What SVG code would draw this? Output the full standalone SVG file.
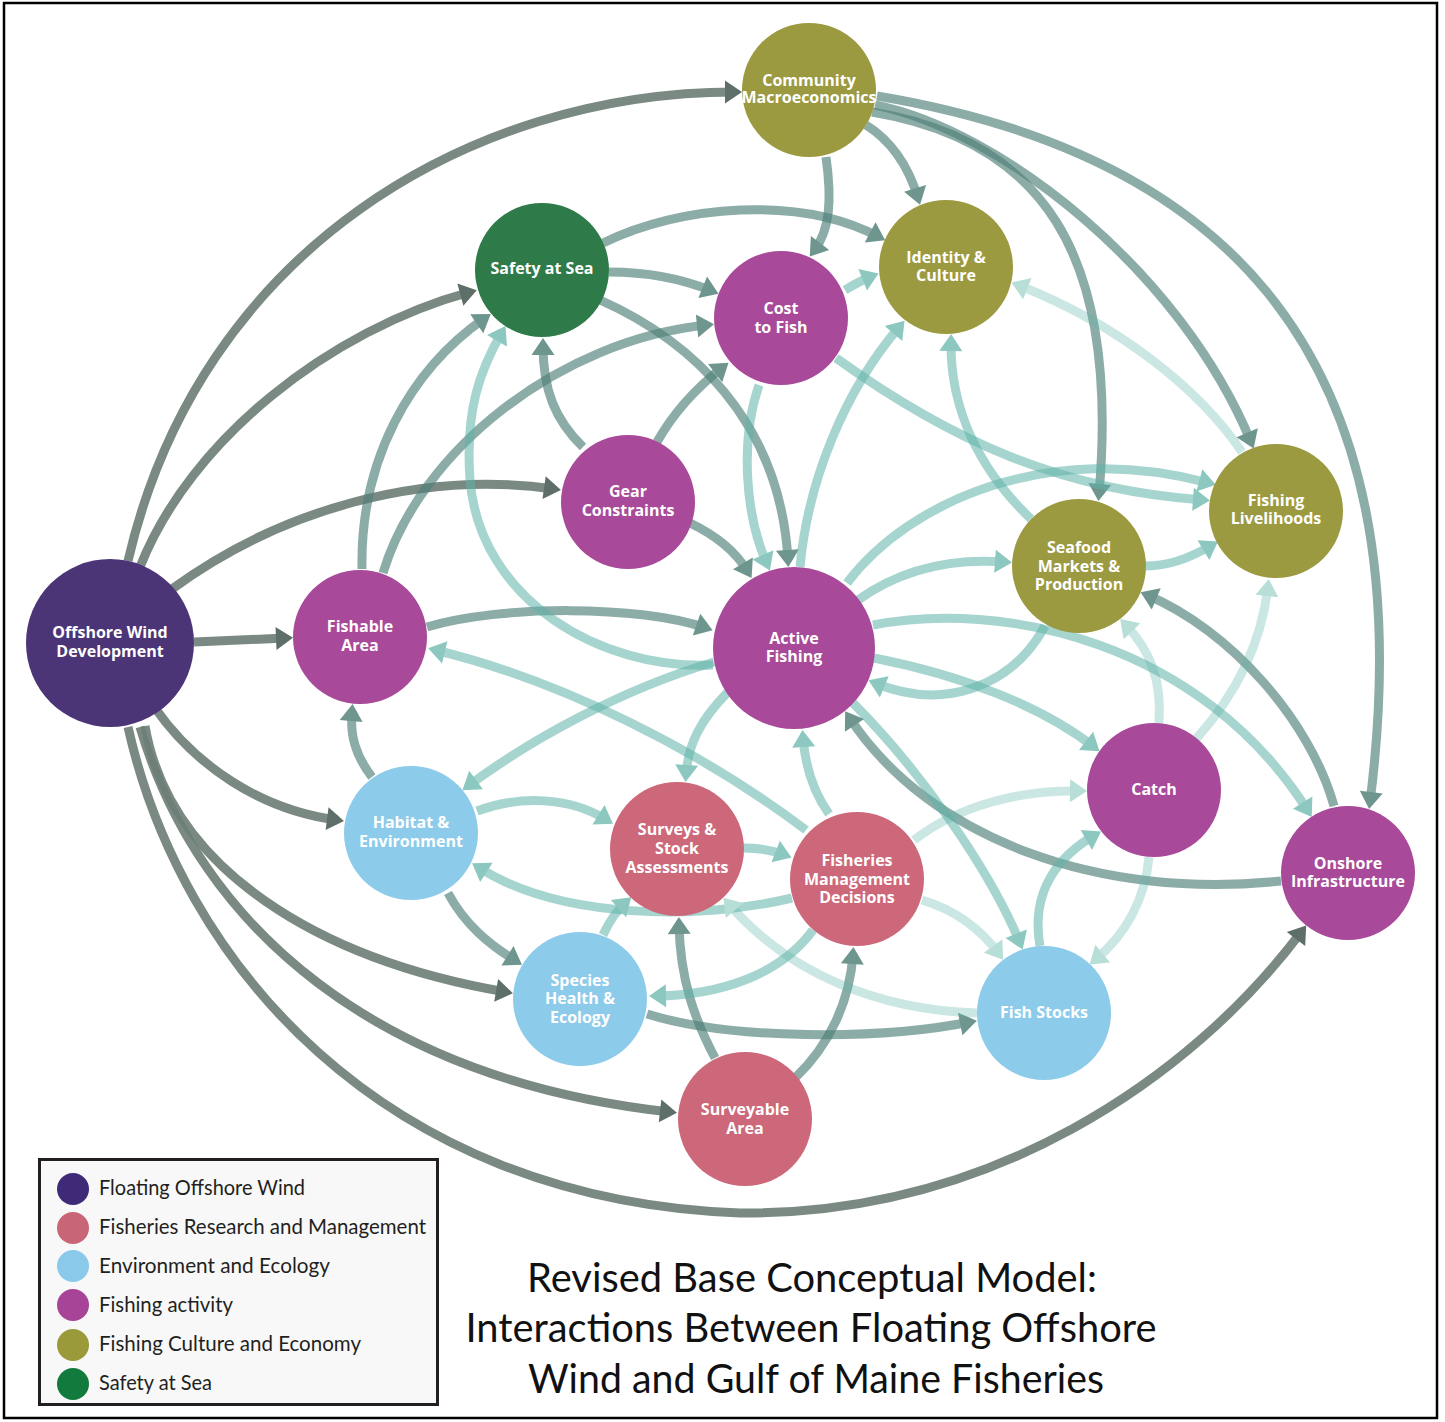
<svg xmlns="http://www.w3.org/2000/svg" width="1445" height="1422" viewBox="0 0 1445 1422">
<style>
.nd text{fill:#fff;font-family:"Open Sans","Liberation Sans",sans-serif;font-weight:700;font-size:16px;text-anchor:middle}
#edges path{fill:none;stroke-width:9}
.d{stroke:#6b7d75;stroke-opacity:.9;marker-end:url(#ad)}
.m{stroke:#4f7f78;stroke-opacity:.65;marker-end:url(#am)}
.l{stroke:#5cb3a7;stroke-opacity:.55;marker-end:url(#al)}
.v{stroke:#5cb3a7;stroke-opacity:.32;marker-end:url(#av)}
.lg{font-family:Lato,"Liberation Sans",sans-serif;font-size:21px;fill:#231f20}
.tt{font-family:Lato,"Liberation Sans",sans-serif;font-size:41px;fill:#111;text-anchor:middle}
</style>
<defs>
<marker id="ad" markerUnits="userSpaceOnUse" markerWidth="17" markerHeight="23" refX="10" refY="11.5" orient="auto" overflow="visible"><path d="M0,0 L17,11.5 L0,23 z" fill="#5e6e68"/></marker>
<marker id="am" markerUnits="userSpaceOnUse" markerWidth="17" markerHeight="23" refX="10" refY="11.5" orient="auto" overflow="visible"><path d="M0,0 L17,11.5 L0,23 z" fill="#6f958f"/></marker>
<marker id="al" markerUnits="userSpaceOnUse" markerWidth="17" markerHeight="23" refX="10" refY="11.5" orient="auto" overflow="visible"><path d="M0,0 L17,11.5 L0,23 z" fill="#8cc8bf"/></marker>
<marker id="av" markerUnits="userSpaceOnUse" markerWidth="17" markerHeight="23" refX="10" refY="11.5" orient="auto" overflow="visible"><path d="M0,0 L17,11.5 L0,23 z" fill="#b8ded8"/></marker>
</defs>
<rect x="0" y="0" width="1445" height="1422" fill="#fff"/>
<rect x="4" y="3" width="1433" height="1415" fill="none" stroke="#000" stroke-width="2.5"/>

<g id="edges">
<path class="d" d="M128,561 C200,250 470,92 735,92"/>
<path class="d" d="M140,567 C190,440 330,330 470,292"/>
<path class="d" d="M172,589 C280,510 420,470 554,489"/>
<path class="d" d="M194,642 L286,638"/>
<path class="d" d="M155,708 C195,765 260,810 337,820"/>
<path class="d" d="M145,726 C170,870 320,960 506,992"/>
<path class="d" d="M140,727 C200,930 380,1080 670,1112"/>
<path class="d" d="M128,727 C180,960 380,1200 740,1213 C990,1215 1190,1080 1302,931"/>
<path class="m" d="M826,157 C832,200 830,230 814,251"/>
<path class="m" d="M866,125 C890,140 908,165 918,198"/>
<path class="m" d="M875,105 C1000,130 1180,270 1251,442"/>
<path class="m" d="M872,112 C1040,140 1120,250 1099,494"/>
<path class="m" d="M877,96 C1200,150 1430,330 1370,802"/>
<path class="m" d="M603,243 C680,205 800,195 879,237"/>
<path class="m" d="M609,272 C650,272 685,280 712,291"/>
<path class="m" d="M600,300 C690,340 780,420 788,560"/>
<path class="m" d="M583,447 C555,420 543,390 543,345"/>
<path class="m" d="M657,442 C675,410 700,385 723,367"/>
<path class="m" d="M690,523 C715,535 735,550 748,572"/>
<path class="m" d="M362,569 C360,460 410,370 485,318"/>
<path class="m" d="M383,573 C420,450 560,340 707,325"/>
<path class="m" d="M427,627 C500,605 640,605 706,628"/>
<path class="m" d="M372,777 C355,755 350,735 352,711"/>
<path class="m" d="M448,893 C465,925 490,945 516,961"/>
<path class="m" d="M715,1058 C695,1020 680,980 679,924"/>
<path class="m" d="M795,1078 C830,1045 850,1000 853,954"/>
<path class="m" d="M647,1014 C730,1040 880,1040 970,1022"/>
<path class="m" d="M1281,881 C1100,900 930,840 849,717"/>
<path class="m" d="M1334,806 C1310,720 1230,630 1147,595"/>
<path class="l" d="M845,290 C855,284 862,280 872,276"/>
<path class="l" d="M759,385 C740,440 745,515 767,564"/>
<path class="l" d="M800,567 C808,480 845,390 900,326"/>
<path class="l" d="M836,358 C950,440 1060,490 1203,500"/>
<path class="l" d="M858,600 C900,570 950,558 1005,562"/>
<path class="l" d="M847,583 C910,500 1050,440 1209,483"/>
<path class="l" d="M1146,566 C1170,566 1192,557 1212,545"/>
<path class="l" d="M1031,519 C980,470 950,410 951,341"/>
<path class="l" d="M1045,626 C1010,690 940,710 875,683"/>
<path class="l" d="M873,625 C1000,600 1200,640 1308,811"/>
<path class="l" d="M874,658 C960,675 1040,705 1094,747"/>
<path class="l" d="M853,703 C920,770 990,870 1020,943"/>
<path class="l" d="M1040,946 C1030,890 1060,855 1095,835"/>
<path class="l" d="M829,814 C812,790 805,765 803,737"/>
<path class="l" d="M806,830 C700,750 560,680 435,650"/>
<path class="l" d="M728,692 C700,720 688,745 686,775"/>
<path class="l" d="M714,662 C620,690 530,740 468,786"/>
<path class="l" d="M713,665 C600,670 480,600 470,480 C465,410 480,370 502,332"/>
<path class="l" d="M744,848 C760,848 772,850 785,855"/>
<path class="l" d="M477,811 C520,795 570,797 607,820"/>
<path class="l" d="M792,898 C700,920 560,920 478,867"/>
<path class="l" d="M603,935 C610,920 617,910 626,902"/>
<path class="l" d="M813,930 C780,975 720,995 656,996"/>
<path class="v" d="M1149,857 C1145,900 1125,935 1095,960"/>
<path class="v" d="M1159,723 C1162,680 1150,650 1125,624"/>
<path class="v" d="M1196,739 C1240,690 1262,640 1268,586"/>
<path class="v" d="M914,840 C960,805 1020,790 1080,791"/>
<path class="v" d="M922,900 C955,910 980,928 999,954"/>
<path class="v" d="M977,1013 C880,1010 790,975 728,903"/>
<path class="v" d="M1242,452 C1200,390 1120,325 1018,285"/>
</g>

<g id="owd" class="nd"><circle cx="110" cy="643" r="84" fill="#4b3577"/><text x="110" y="638">Offshore Wind<tspan x="110" dy="19">Development</tspan></text></g>
<g id="cm" class="nd"><circle cx="809" cy="90" r="67" fill="#9c9a41"/><text x="809" y="86">Community<tspan x="809" dy="17">Macroeconomics</tspan></text></g>
<g id="safety" class="nd"><circle cx="542" cy="270" r="67" fill="#2e7a48"/><text x="542" y="274">Safety at Sea</text></g>
<g id="identity" class="nd"><circle cx="946" cy="267" r="67" fill="#9c9a41"/><text x="946" y="263">Identity &amp;<tspan x="946" dy="18">Culture</tspan></text></g>
<g id="cost" class="nd"><circle cx="781" cy="318" r="67" fill="#a84a99"/><text x="781" y="314">Cost<tspan x="781" dy="19">to Fish</tspan></text></g>
<g id="gear" class="nd"><circle cx="628" cy="502" r="67" fill="#a84a99"/><text x="628" y="497">Gear<tspan x="628" dy="19">Constraints</tspan></text></g>
<g id="livelihoods" class="nd"><circle cx="1276" cy="511" r="67" fill="#9c9a41"/><text x="1276" y="506">Fishing<tspan x="1276" dy="18">Livelihoods</tspan></text></g>
<g id="seafood" class="nd"><circle cx="1079" cy="566" r="67" fill="#9c9a41"/><text x="1079" y="553">Seafood<tspan x="1079" dy="19">Markets &amp;</tspan><tspan x="1079" dy="18">Production</tspan></text></g>
<g id="fishable" class="nd"><circle cx="360" cy="637" r="67" fill="#a84a99"/><text x="360" y="632">Fishable<tspan x="360" dy="19">Area</tspan></text></g>
<g id="active" class="nd"><circle cx="794" cy="648" r="81" fill="#a84a99"/><text x="794" y="644">Active<tspan x="794" dy="18">Fishing</tspan></text></g>
<g id="habitat" class="nd"><circle cx="411" cy="833" r="67" fill="#8dcbea"/><text x="411" y="828">Habitat &amp;<tspan x="411" dy="19">Environment</tspan></text></g>
<g id="surveys" class="nd"><circle cx="677" cy="849" r="67" fill="#cc6879"/><text x="677" y="835">Surveys &amp;<tspan x="677" dy="19">Stock</tspan><tspan x="677" dy="19">Assessments</tspan></text></g>
<g id="fmd" class="nd"><circle cx="857" cy="879" r="67" fill="#cc6879"/><text x="857" y="866">Fisheries<tspan x="857" dy="19">Management</tspan><tspan x="857" dy="18">Decisions</tspan></text></g>
<g id="catch" class="nd"><circle cx="1154" cy="790" r="67" fill="#a84a99"/><text x="1154" y="795">Catch</text></g>
<g id="onshore" class="nd"><circle cx="1348" cy="873" r="67" fill="#a84a99"/><text x="1348" y="869">Onshore<tspan x="1348" dy="18">Infrastructure</tspan></text></g>
<g id="species" class="nd"><circle cx="580" cy="999" r="67" fill="#8dcbea"/><text x="580" y="986">Species<tspan x="580" dy="18">Health &amp;</tspan><tspan x="580" dy="19">Ecology</tspan></text></g>
<g id="fishstocks" class="nd"><circle cx="1044" cy="1013" r="67" fill="#8dcbea"/><text x="1044" y="1018">Fish Stocks</text></g>
<g id="surveyable" class="nd"><circle cx="745" cy="1119" r="67" fill="#cc6879"/><text x="745" y="1115">Surveyable<tspan x="745" dy="19">Area</tspan></text></g>

<g id="legend">
<rect x="39.5" y="1159.5" width="398" height="245" fill="#f8f8f8" stroke="#231f20" stroke-width="3"/>
<circle cx="73" cy="1189" r="16" fill="#3f2a78"/>
<circle cx="73" cy="1228" r="16" fill="#c86677"/>
<circle cx="73" cy="1266" r="16" fill="#8ac9ea"/>
<circle cx="73" cy="1305" r="16" fill="#a84497"/>
<circle cx="73" cy="1345" r="16" fill="#9a9a3a"/>
<circle cx="73" cy="1384" r="16" fill="#137a3e"/>
<text class="lg" x="99" y="1195" textLength="206" lengthAdjust="spacingAndGlyphs">Floating Offshore Wind</text>
<text class="lg" x="99" y="1234" textLength="327" lengthAdjust="spacingAndGlyphs">Fisheries Research and Management</text>
<text class="lg" x="99" y="1273" textLength="231" lengthAdjust="spacingAndGlyphs">Environment and Ecology</text>
<text class="lg" x="99" y="1312" textLength="134" lengthAdjust="spacingAndGlyphs">Fishing activity</text>
<text class="lg" x="99" y="1351" textLength="262" lengthAdjust="spacingAndGlyphs">Fishing Culture and Economy</text>
<text class="lg" x="99" y="1390" textLength="113" lengthAdjust="spacingAndGlyphs">Safety at Sea</text>
</g>

<g id="title">
<text class="tt" x="812" y="1292" textLength="570" lengthAdjust="spacingAndGlyphs">Revised Base Conceptual Model:</text>
<text class="tt" x="811" y="1342" textLength="691" lengthAdjust="spacingAndGlyphs">Interactions Between Floating Offshore</text>
<text class="tt" x="816" y="1393" textLength="576" lengthAdjust="spacingAndGlyphs">Wind and Gulf of Maine Fisheries</text>
</g>
</svg>
